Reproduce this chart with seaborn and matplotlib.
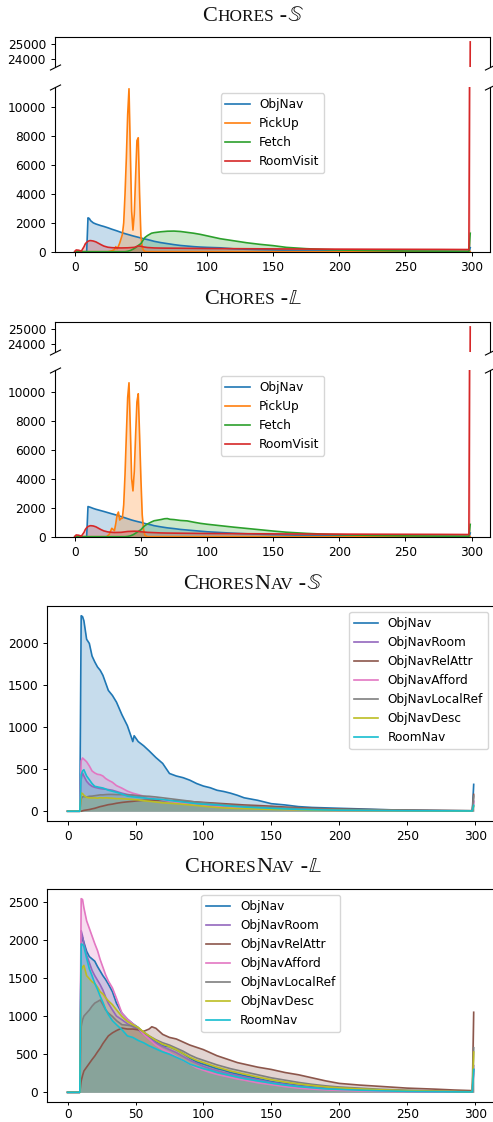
import numpy as np
import pandas as pd
import matplotlib
matplotlib.use("Agg")
import matplotlib.pyplot as plt
import seaborn as sns

# ---------------- data (step, count) ----------------
CHORES_TASKS = ["ObjNav", "PickUp", "Fetch", "RoomVisit"]
NAV_TASKS = ["ObjNav", "ObjNavRoom", "ObjNavRelAttr", "ObjNavAfford",
             "ObjNavLocalRef", "ObjNavDesc", "RoomNav"]

chores_s_objnav = [(0,0),(9,0),(10,2350),(11,2300),(12,2150),(14,2000),(16,1920),(18,1860),(20,1800),(22,1750),(25,1660),(28,1560),(30,1500),(32,1440),(35,1340),(38,1250),(40,1200),(43,1120),(45,1070),(48,1000),(50,950),(53,880),(55,840),(58,770),(60,720),(65,630),(70,560),(75,490),(80,430),(85,390),(90,350),(95,320),(100,300),(110,270),(120,200),(130,170),(140,140),(150,120),(160,100),(175,80),(190,60),(200,50),(225,35),(250,25),(275,20),(298,15),(299,280)]
chores_s_pickup = [(0,0),(25,0),(28,60),(30,150),(31,350),(32,200),(33,380),(34,600),(35,900),(36,1200),(37,2000),(38,4000),(39,6500),(40,9500),(41,11300),(42,7000),(43,2800),(44,1500),(45,2600),(46,5200),(47,7700),(48,7900),(49,4000),(50,1100),(51,300),(52,100),(53,20),(55,0),(299,0)]
chores_s_fetch = [(0,0),(38,0),(40,30),(42,80),(44,170),(46,280),(48,430),(50,560),(51,700),(52,850),(53,980),(55,1120),(58,1280),(60,1320),(65,1380),(70,1420),(75,1430),(80,1400),(85,1340),(90,1280),(95,1200),(100,1100),(110,900),(120,760),(130,620),(140,510),(150,420),(160,300),(175,210),(190,150),(200,120),(225,80),(250,50),(275,40),(298,30),(299,1280)]
chores_s_roomvisit = [(0,0),(1,120),(3,100),(5,40),(7,350),(8,550),(9,650),(10,720),(11,760),(12,770),(14,740),(16,680),(18,580),(20,480),(22,390),(25,310),(28,280),(30,270),(35,260),(40,270),(45,300),(48,400),(50,380),(52,330),(55,290),(60,260),(65,250),(70,245),(80,240),(90,230),(100,220),(120,210),(140,200),(160,190),(190,180),(225,170),(250,165),(275,160),(298,150),(299,25150)]

chores_l_objnav = [(0,0),(9,0),(10,2080),(12,2020),(14,1950),(16,1890),(18,1840),(20,1790),(22,1740),(25,1660),(28,1580),(30,1530),(33,1450),(35,1390),(38,1300),(40,1240),(43,1150),(45,1100),(48,1030),(50,990),(53,910),(55,870),(58,810),(60,760),(65,680),(70,610),(75,560),(80,500),(85,460),(90,420),(95,380),(100,340),(110,290),(120,240),(130,200),(140,170),(150,140),(160,120),(175,90),(190,70),(200,60),(225,40),(250,30),(275,25),(298,20),(299,250)]
chores_l_pickup = [(0,0),(24,0),(26,150),(28,580),(30,420),(31,900),(32,1500),(33,1700),(34,1150),(35,1250),(36,1270),(37,2200),(38,4300),(39,7000),(40,9600),(41,10620),(42,7500),(43,4000),(44,3160),(45,4500),(46,7000),(47,9300),(48,9860),(49,7000),(50,4000),(51,1500),(52,500),(53,100),(55,0),(299,0)]
chores_l_fetch = [(0,0),(38,0),(40,20),(42,60),(44,130),(46,240),(48,360),(50,480),(52,680),(53,760),(55,880),(58,1020),(60,1100),(65,1180),(68,1240),(70,1250),(72,1200),(75,1180),(80,1120),(85,1090),(90,1000),(95,920),(100,860),(110,760),(120,660),(130,570),(140,480),(150,390),(160,310),(175,230),(190,170),(200,140),(225,90),(250,60),(275,40),(298,30),(299,850)]
chores_l_roomvisit = [(0,0),(1,120),(3,100),(5,40),(7,300),(8,500),(9,620),(10,700),(11,740),(12,760),(14,740),(16,680),(18,580),(20,480),(22,400),(25,330),(28,300),(30,290),(35,300),(40,360),(45,380),(48,370),(50,340),(55,300),(60,280),(65,260),(70,250),(80,240),(90,230),(100,220),(120,210),(140,200),(160,190),(190,180),(225,170),(250,165),(275,160),(298,150),(299,25150)]

nav_s_objnav = [(0,0),(9,0),(10,2330),(11,2320),(12,2270),(14,2050),(16,2000),(18,1850),(20,1780),(22,1720),(24,1680),(26,1620),(28,1530),(30,1440),(33,1380),(36,1300),(40,1150),(44,1020),(47,880),(48,830),(49,900),(52,830),(56,780),(60,720),(65,640),(70,570),(75,450),(80,420),(85,400),(90,370),(95,330),(100,300),(105,280),(110,250),(115,235),(120,215),(125,190),(130,160),(140,130),(150,90),(160,75),(170,55),(180,45),(190,40),(200,35),(215,28),(230,20),(250,12),(270,8),(285,6),(298,5),(299,320)]
nav_s_room = [(0,0),(9,0),(10,380),(11,456),(12,420),(14,356),(16,320),(18,297),(20,285),(22,277),(24,270),(26,265),(28,262),(30,258),(33,250),(36,235),(40,215),(44,200),(48,190),(52,180),(56,165),(60,155),(65,145),(70,135),(75,125),(80,115),(85,105),(90,95),(95,85),(100,78),(105,70),(110,62),(115,55),(120,48),(125,45),(130,40),(140,35),(150,30),(160,25),(170,20),(180,18),(190,15),(200,12),(215,10),(230,8),(250,6),(270,5),(285,4),(298,4),(299,120)]
nav_s_relattr = [(0,0),(10,0),(11,5),(12,10),(14,15),(16,20),(18,28),(20,35),(22,45),(24,55),(26,62),(28,70),(30,78),(33,85),(36,95),(40,105),(44,112),(48,118),(52,125),(56,130),(60,132),(65,130),(70,128),(75,125),(80,122),(85,120),(90,115),(95,110),(100,105),(105,100),(110,95),(115,90),(120,85),(125,80),(130,75),(140,68),(150,60),(160,50),(170,42),(180,36),(190,30),(200,26),(215,22),(230,18),(250,14),(270,10),(285,8),(298,6),(299,200)]
nav_s_afford = [(0,0),(9,0),(10,600),(11,635),(12,620),(14,590),(16,540),(18,480),(20,456),(22,440),(24,435),(26,420),(28,390),(30,370),(33,345),(36,305),(40,275),(44,240),(48,215),(52,198),(56,180),(60,165),(65,150),(70,135),(75,120),(80,105),(85,95),(90,85),(95,75),(100,65),(105,58),(110,52),(115,48),(120,44),(125,42),(130,40),(140,34),(150,28),(160,22),(170,18),(180,15),(190,12),(200,10),(215,8),(230,7),(250,5),(270,4),(285,4),(298,3),(299,110)]
nav_s_localref = [(0,0),(9,0),(10,150),(11,171),(12,175),(14,170),(16,178),(18,180),(20,185),(22,190),(24,195),(26,195),(28,198),(30,200),(33,200),(36,198),(40,198),(44,195),(48,192),(52,185),(56,180),(60,178),(65,170),(70,160),(75,150),(80,140),(85,130),(90,120),(95,108),(100,100),(105,92),(110,85),(115,78),(120,70),(125,65),(130,60),(140,52),(150,45),(160,38),(170,32),(180,27),(190,23),(200,20),(215,16),(230,13),(250,10),(270,8),(285,6),(298,5),(299,180)]
nav_s_desc = [(0,0),(9,0),(10,218),(11,210),(12,190),(14,165),(16,160),(18,158),(20,160),(22,155),(24,162),(26,158),(28,160),(30,158),(33,155),(36,150),(40,150),(44,145),(48,140),(52,135),(56,125),(60,119),(65,110),(70,100),(75,95),(80,90),(85,82),(90,75),(95,68),(100,60),(105,52),(110,45),(115,40),(120,36),(125,33),(130,32),(140,26),(150,22),(160,18),(170,15),(180,12),(190,10),(200,9),(215,7),(230,6),(250,5),(270,4),(285,3),(298,3),(299,60)]
nav_s_roomnav = [(0,0),(9,0),(10,436),(11,480),(12,495),(14,420),(16,376),(18,330),(20,297),(22,290),(24,283),(26,277),(28,265),(30,250),(33,238),(36,225),(40,205),(44,180),(48,172),(52,165),(56,159),(60,152),(65,145),(70,139),(75,128),(80,119),(85,110),(90,100),(95,90),(100,85),(105,80),(110,75),(115,68),(120,62),(125,56),(130,50),(140,42),(150,35),(160,28),(170,22),(180,18),(190,15),(200,12),(215,10),(230,8),(250,6),(270,5),(285,4),(298,3),(299,70)]

nav_l_objnav = [(0,0),(9,0),(10,1960),(11,2033),(12,1968),(14,1850),(16,1780),(18,1750),(20,1720),(22,1650),(24,1590),(26,1530),(28,1480),(30,1420),(33,1320),(36,1168),(40,1038),(44,960),(48,900),(52,850),(56,780),(60,730),(65,660),(70,610),(75,600),(80,560),(85,510),(90,450),(95,400),(100,370),(105,340),(110,310),(115,290),(120,260),(125,240),(130,220),(140,180),(150,140),(160,115),(170,90),(180,70),(190,55),(200,45),(215,35),(230,25),(250,15),(270,10),(285,8),(298,6),(299,300)]
nav_l_room = [(0,0),(9,0),(10,2120),(11,2050),(12,1946),(14,1800),(16,1700),(18,1600),(20,1530),(22,1470),(24,1410),(26,1340),(28,1250),(30,1168),(33,1080),(36,1000),(40,952),(44,900),(48,860),(52,820),(56,760),(60,710),(65,650),(70,600),(75,560),(80,520),(85,470),(90,420),(95,380),(100,340),(105,310),(110,285),(115,260),(120,240),(125,220),(130,200),(140,165),(150,130),(160,105),(170,82),(180,65),(190,50),(200,40),(215,30),(230,22),(250,14),(270,9),(285,7),(298,5),(299,350)]
nav_l_relattr = [(0,0),(9,0),(10,150),(11,220),(12,280),(14,330),(16,380),(18,430),(20,476),(22,530),(24,580),(26,640),(28,690),(30,740),(33,780),(36,810),(40,843),(44,830),(48,830),(52,820),(56,800),(60,830),(62,860),(65,840),(70,760),(75,720),(80,700),(85,660),(90,620),(95,590),(100,560),(105,520),(110,480),(115,450),(120,420),(125,390),(130,370),(140,330),(150,300),(160,260),(170,230),(180,190),(190,150),(200,117),(215,95),(230,78),(250,55),(270,42),(285,30),(298,22),(299,1050)]
nav_l_afford = [(0,0),(9,0),(10,2540),(11,2530),(12,2420),(14,2250),(16,2150),(18,2050),(20,1950),(22,1860),(24,1740),(26,1640),(28,1540),(30,1460),(33,1370),(36,1233),(40,1038),(44,960),(48,900),(52,840),(56,760),(60,700),(65,620),(70,560),(75,520),(80,470),(85,420),(90,370),(95,320),(100,290),(105,260),(110,235),(115,215),(120,195),(125,175),(130,160),(140,125),(150,100),(160,75),(170,55),(180,42),(190,32),(200,25),(215,18),(230,12),(250,8),(270,5),(285,4),(298,3),(299,250)]
nav_l_localref = [(0,0),(9,0),(10,865),(11,950),(12,1000),(14,1040),(16,1080),(18,1130),(20,1170),(22,1190),(24,1211),(26,1150),(28,1082),(30,1040),(33,995),(36,940),(40,887),(44,880),(48,870),(52,840),(56,790),(60,740),(65,690),(70,650),(75,620),(80,580),(85,540),(90,490),(95,450),(100,420),(105,390),(110,360),(115,335),(120,310),(125,290),(130,270),(140,230),(150,190),(160,160),(170,130),(180,105),(190,85),(200,70),(215,55),(230,40),(250,28),(270,18),(285,12),(298,8),(299,584)]
nav_l_desc = [(0,0),(9,0),(10,1600),(11,1644),(12,1665),(14,1530),(16,1490),(18,1450),(20,1427),(22,1380),(24,1320),(26,1290),(28,1240),(30,1200),(33,1150),(36,1082),(40,995),(44,930),(48,887),(52,850),(56,790),(60,740),(65,680),(70,630),(75,600),(80,560),(85,510),(90,460),(95,420),(100,390),(105,360),(110,330),(115,305),(120,280),(125,260),(130,240),(140,200),(150,165),(160,135),(170,110),(180,90),(190,72),(200,58),(215,45),(230,33),(250,22),(270,15),(285,10),(298,7),(299,528)]
nav_l_roomnav = [(0,0),(9,0),(10,1946),(11,1940),(12,1910),(14,1760),(16,1620),(18,1530),(20,1430),(22,1350),(24,1260),(26,1180),(28,1090),(30,1020),(33,940),(36,887),(40,822),(44,740),(48,720),(52,680),(56,650),(60,610),(65,570),(70,530),(75,500),(80,460),(85,420),(90,370),(95,340),(100,310),(105,290),(110,260),(115,240),(120,220),(125,200),(130,180),(140,150),(150,120),(160,95),(170,75),(180,60),(190,45),(200,38),(215,28),(230,20),(250,12),(270,8),(285,6),(298,5),(299,300)]

CHORES_COLORS = ["#1f77b4", "#ff7f0e", "#2ca02c", "#d62728"]
NAV_COLORS = ["#1f77b4", "#9467bd", "#8c564b", "#e377c2", "#7f7f7f", "#bcbd22", "#17becf"]

# ---------------- figure ----------------
W, H = 493, 1122
fig = plt.figure(figsize=(W / 100, H / 100), dpi=100)
FS = 8.7


def add_ax(l, t, r, b):
    return fig.add_axes([l / W, 1 - b / H, (r - l) / W, (b - t) / H])


def draw(ax, names, series, colors):
    frames = [pd.DataFrame(s, columns=["step", "count"]).assign(task=n)
              for n, s in zip(names, series)]
    df = pd.concat(frames, ignore_index=True)
    for n, s, c in zip(names, series, colors):
        d = df[df.task == n]
        ax.fill_between(d["step"], d["count"], 0, color=c, alpha=0.25, lw=0)
    sns.lineplot(data=df, x="step", y="count", hue="task", hue_order=names,
                 palette=dict(zip(names, colors)), ax=ax, lw=1.2,
                 legend=False, estimator=None, sort=True)
    ax.set_xlabel("")
    ax.set_ylabel("")
    ax.tick_params(labelsize=FS, length=3, width=0.7)
    for sp in ax.spines.values():
        sp.set_linewidth(0.8)
    return list(ax.get_lines())


def broken(top_box, bot_box, series, top_lim, bot_lim):
    axt = add_ax(*top_box)
    axb = add_ax(*bot_box)
    draw(axt, CHORES_TASKS, series, CHORES_COLORS)
    lines = draw(axb, CHORES_TASKS, series, CHORES_COLORS)
    axt.set_ylim(*top_lim)
    axb.set_ylim(*bot_lim)
    axt.set_xlim(axb.get_xlim())
    axt.set_yticks([24000, 25000])
    axt.spines["bottom"].set_visible(False)
    axb.spines["top"].set_visible(False)
    axt.tick_params(axis="x", bottom=False, labelbottom=False)
    axb.legend(lines, CHORES_TASKS, loc="upper center", fontsize=FS)
    d = 0.5
    kw = dict(marker=[(-1, -d), (1, d)], markersize=8, linestyle="none",
              color="k", mec="k", mew=0.8, clip_on=False)
    axt.plot([0, 1], [0, 0], transform=axt.transAxes, **kw)
    axb.plot([0, 1], [1, 1], transform=axb.transAxes, **kw)


broken((55, 36.7, 490, 66.5), (55, 87.3, 490, 251.7),
       [chores_s_objnav, chores_s_pickup, chores_s_fetch, chores_s_roomvisit],
       (23500, 25500), (0, 11400))
broken((55, 321.7, 490, 351.5), (55, 370, 490, 536.7),
       [chores_l_objnav, chores_l_pickup, chores_l_fetch, chores_l_roomvisit],
       (23500, 25500), (0, 11500))

ax3 = add_ax(47.3, 606, 494, 821)
l3 = draw(ax3, NAV_TASKS, [nav_s_objnav, nav_s_room, nav_s_relattr, nav_s_afford,
                           nav_s_localref, nav_s_desc, nav_s_roomnav], NAV_COLORS)
ax3.legend(l3, NAV_TASKS, loc="upper right", fontsize=FS)

ax4 = add_ax(47.3, 889, 494, 1102)
l4 = draw(ax4, NAV_TASKS, [nav_l_objnav, nav_l_room, nav_l_relattr, nav_l_afford,
                           nav_l_localref, nav_l_desc, nav_l_roomnav], NAV_COLORS)
ax4.legend(l4, NAV_TASKS, loc="upper center", fontsize=FS)
ax4.tick_params(axis="x", pad=1.5, length=2.5)

# ---------------- small-caps titles ----------------
renderer = fig.canvas.get_renderer()
BIG, SMALL = 16, 12.4
SERIF = "Liberation Serif"


def title(parts, baseline_px, xc=253):
    texts = []
    for s, size in parts:
        kw = dict(fontsize=size, va="baseline", ha="left", color="#111111")
        if s.startswith("$"):
            kw["math_fontfamily"] = "stix"
        else:
            kw["family"] = SERIF
        texts.append(fig.text(0, 1 - baseline_px / H, s, **kw))
    widths = [t.get_window_extent(renderer).width for t in texts]
    x = xc - sum(widths) / 2
    for t, w in zip(texts, widths):
        t.set_x(x / W)
        x += w


title([("C", BIG), ("HORES", SMALL), (" -", BIG), (r"$\mathbb{S}$", BIG)], 20.7)
title([("C", BIG), ("HORES", SMALL), (" -", BIG), (r"$\mathbb{L}$", BIG)], 304)
title([("C", BIG), ("HORES", SMALL), ("N", BIG), ("AV", SMALL), (" -", BIG),
       (r"$\mathbb{S}$", BIG)], 589)
title([("C", BIG), ("HORES", SMALL), ("N", BIG), ("AV", SMALL), (" -", BIG),
       (r"$\mathbb{L}$", BIG)], 872)

fig.savefig("out.png", dpi=100)
